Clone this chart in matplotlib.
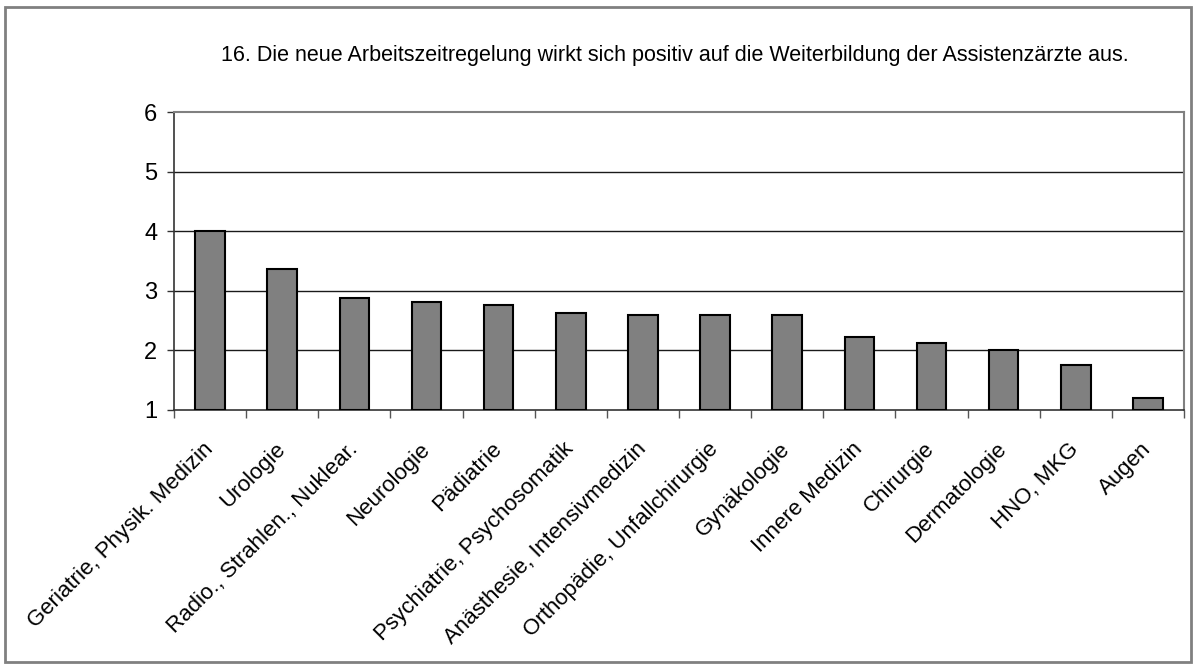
import matplotlib.pyplot as plt
import numpy as np
from matplotlib.patches import Rectangle

plt.rcParams['font.family'] = ['Liberation Sans', 'DejaVu Sans']

# Data
categories = ['Geriatrie, Physik. Medizin', 'Urologie', 'Radio., Strahlen., Nuklear.',
              'Neurologie', 'Pädiatrie', 'Psychiatrie, Psychosomatik',
              'Anästhesie, Intensivmedizin', 'Orthopädie, Unfallchirurgie',
              'Gynäkologie', 'Innere Medizin', 'Chirurgie', 'Dermatologie',
              'HNO, MKG', 'Augen']
values = [4.0, 3.37, 2.88, 2.82, 2.77, 2.63, 2.60, 2.60, 2.60, 2.22, 2.13, 2.0, 1.75, 1.2]
yticks = [1, 2, 3, 4, 5, 6]
title = '16. Die neue Arbeitszeitregelung wirkt sich positiv auf die Weiterbildung der Assistenzärzte aus.'

fig = plt.figure(figsize=(11.96, 6.65), dpi=100)
ax = fig.add_axes([0.1455, 0.3835, 0.8445, 0.448])

x = np.arange(len(categories))
base = 1
ax.bar(x, np.array(values) - base, bottom=base, width=0.41,
       color='#808080', edgecolor='black', linewidth=1.5, zorder=3)

ax.set_xlim(-0.5, len(categories) - 0.5)
ax.set_ylim(1, 6)

# grid lines
for v in yticks[1:-1]:
    ax.axhline(v, color='#1a1a1a', linewidth=1.0, zorder=1)

ax.set_yticks(yticks)
ax.tick_params(axis='y', direction='out', length=5, width=1, color='#333333',
               labelsize=17, pad=7)
ax.set_xticks(x)
ax.set_xticklabels(categories, rotation=45, ha='right', va='center',
                   rotation_mode='anchor', fontsize=16)
ax.tick_params(axis='x', which='major', length=0, pad=26)
ax.set_xticks(np.arange(-0.5, len(categories)), minor=True)
ax.tick_params(axis='x', which='minor', direction='out', length=6, width=1,
               color='#555555')

for side in ['left', 'bottom']:
    ax.spines[side].set_color('#333333')
    ax.spines[side].set_linewidth(1.2)
for side in ['top', 'right']:
    ax.spines[side].set_color('#808080')
    ax.spines[side].set_linewidth(1.5)

fig.text(0.5645, 1 - 55 / 665, title, ha='center', va='center', fontsize=15.5)

# outer frame
fig.patches.append(Rectangle((5 / 1196, 3 / 665), 1186 / 1196, 655 / 665,
                             transform=fig.transFigure, fill=False,
                             edgecolor='#808080', linewidth=2))

plt.savefig('out.png', dpi=100)
